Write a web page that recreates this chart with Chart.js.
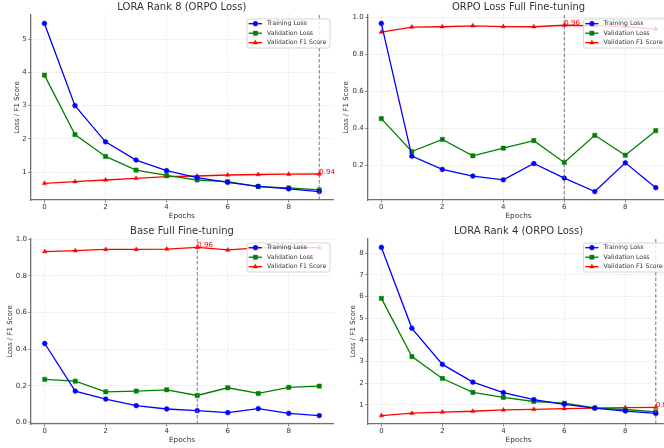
<!DOCTYPE html>
<html>
<head>
<meta charset="utf-8">
<script src="https://cdn.jsdelivr.net/npm/chart.js@4.4.1/dist/chart.umd.min.js"></script>
<style>
  html, body { margin: 0; padding: 0; background: #fff; overflow: hidden; width: 664px; height: 448px; }
  canvas { position: absolute; }
</style>
</head>
<body>
<script>
const epochs = [0, 1, 2, 3, 4, 5, 6, 7, 8, 9];
const xTicks = [0, 2, 4, 6, 8];

// LORA Rank 8 (ORPO Loss)
const rank8Train = [5.48, 3.00, 1.91, 1.36, 1.04, 0.83, 0.69, 0.57, 0.49, 0.41];
const rank8Val = [3.92, 2.13, 1.47, 1.06, 0.90, 0.76, 0.71, 0.56, 0.52, 0.46];
const rank8F1 = [0.66, 0.71, 0.76, 0.81, 0.86, 0.88, 0.91, 0.925, 0.935, 0.94];
const rank8YTicks = [1, 2, 3, 4, 5];
const rank8Best = 9;

// ORPO Loss Full Fine-tuning
const orpoTrain = [0.968, 0.249, 0.177, 0.141, 0.121, 0.209, 0.130, 0.057, 0.213, 0.078];
const orpoVal = [0.452, 0.274, 0.340, 0.251, 0.292, 0.333, 0.215, 0.362, 0.254, 0.387];
const orpoF1 = [0.921, 0.948, 0.950, 0.955, 0.951, 0.950, 0.958, 0.955, 0.952, 0.937];
const orpoYTicks = [0.2, 0.4, 0.6, 0.8, 1.0];
const orpoBest = 6;

// Base Full Fine-tuning
const baseTrain = [0.431, 0.171, 0.127, 0.091, 0.073, 0.064, 0.053, 0.075, 0.049, 0.037];
const baseVal = [0.235, 0.225, 0.167, 0.171, 0.178, 0.147, 0.189, 0.158, 0.191, 0.198];
const baseF1 = [0.933, 0.938, 0.945, 0.945, 0.947, 0.956, 0.942, 0.953, 0.955, 0.955];
const baseYTicks = [0.0, 0.2, 0.4, 0.6, 0.8, 1.0];
const baseBest = 5;

// LORA Rank 4 (ORPO Loss)
const rank4Train = [8.26, 4.53, 2.87, 2.05, 1.57, 1.25, 1.03, 0.85, 0.72, 0.61];
const rank4Val = [5.91, 3.23, 2.22, 1.58, 1.35, 1.16, 1.08, 0.86, 0.79, 0.68];
const rank4F1 = [0.51, 0.62, 0.67, 0.71, 0.77, 0.80, 0.83, 0.85, 0.88, 0.89];
const rank4YTicks = [1, 2, 3, 4, 5, 6, 7, 8];
const rank4Best = 9;

Chart.defaults.font.family = 'DejaVu Sans';
Chart.defaults.color = '#333';

const panels = [
  { left: 0, top: 0, w: 338, title: 'LORA Rank 8 (ORPO Loss)', train: rank8Train, val: rank8Val, f1: rank8F1,
    yTicks: rank8YTicks, dec: 0, best: rank8Best, box: { left: 30.7, right: 333, top: 15, bottom: 200 }, yTitleX: 17.3 },
  { left: 332, top: 0, w: 342, title: 'ORPO Loss Full Fine-tuning', train: orpoTrain, val: orpoVal, f1: orpoF1,
    yTicks: orpoYTicks, dec: 1, best: orpoBest, box: { left: 35.6, right: 337.5, top: 15, bottom: 200 }, yTitleX: 14 },
  { left: 0, top: 224, w: 338, title: 'Base Full Fine-tuning', train: baseTrain, val: baseVal, f1: baseF1,
    yTicks: baseYTicks, dec: 1, best: baseBest, box: { left: 31, right: 333, top: 15, bottom: 200 }, yTitleX: 10 },
  { left: 332, top: 224, w: 342, title: 'LORA Rank 4 (ORPO Loss)', train: rank4Train, val: rank4Val, f1: rank4F1,
    yTicks: rank4YTicks, dec: 0, best: rank4Best, box: { left: 35.7, right: 337.5, top: 15, bottom: 200 }, yTitleX: 20.7 },
];

function drawLegend(ctx, area, series) {
  const w = 83, h = 29;
  const x0 = area.right - 3 - w, y0 = area.top + 4;
  ctx.save();
  ctx.fillStyle = 'rgba(255,255,255,0.8)';
  ctx.strokeStyle = '#cccccc';
  ctx.lineWidth = 0.8;
  ctx.beginPath();
  ctx.roundRect(x0, y0, w, h, 2);
  ctx.fill();
  ctx.stroke();
  ctx.font = '6.2px "DejaVu Sans"';
  ctx.textBaseline = 'middle';
  ctx.textAlign = 'left';
  series.forEach((s, i) => {
    const cy = y0 + 4.7 + i * 9.5;
    ctx.strokeStyle = s.color;
    ctx.fillStyle = s.color;
    ctx.lineWidth = 1.3;
    ctx.beginPath();
    ctx.moveTo(x0 + 1.7, cy);
    ctx.lineTo(x0 + 15, cy);
    ctx.stroke();
    ctx.lineWidth = 0.5;
    Chart.helpers.drawPoint(ctx, { pointStyle: s.style, radius: s.r, borderWidth: 0.5, rotation: 0 }, x0 + 8.4, cy);
    ctx.fillStyle = '#333';
    ctx.fillText(s.label, x0 + 20, cy);
  });
  ctx.restore();
}

function makeChart(p) {
  const canvas = document.createElement('canvas');
  canvas.width = p.w;
  canvas.height = 224;
  canvas.style.left = p.left + 'px';
  canvas.style.top = p.top + 'px';
  document.body.appendChild(canvas);

  const series = [
    { label: 'Training Loss', data: p.train, color: '#0000ff', style: 'circle', r: 2.4 },
    { label: 'Validation Loss', data: p.val, color: '#008000', style: 'rect', r: 3.0 },
    { label: 'Validation F1 Score', data: p.f1, color: '#ff0000', style: 'triangle', r: 2.5 },
  ];
  const ys = [...p.train, ...p.val, ...p.f1];
  const yLo = Math.min(...ys), yHi = Math.max(...ys), yPad = (yHi - yLo) * 0.05;
  const xPad = (epochs[epochs.length - 1] - epochs[0]) * 0.05;

  const extras = {
    id: 'extras',
    afterDatasetsDraw(chart) {
      const { ctx, chartArea: a, scales: { x, y } } = chart;
      ctx.save();
      // title
      ctx.fillStyle = '#333';
      ctx.font = '10px "DejaVu Sans"';
      ctx.textAlign = 'center';
      ctx.textBaseline = 'middle';
      ctx.fillText(p.title, (a.left + a.right) / 2, 7.5);
      // best epoch marker
      const bx = x.getPixelForValue(epochs[p.best]);
      ctx.strokeStyle = '#666';
      ctx.lineWidth = 0.9;
      ctx.setLineDash([3.5, 2]);
      ctx.beginPath();
      ctx.moveTo(bx, a.top);
      ctx.lineTo(bx, a.bottom);
      ctx.stroke();
      ctx.setLineDash([]);
      ctx.fillStyle = '#ff0000';
      ctx.font = '7px "DejaVu Sans"';
      ctx.textAlign = 'left';
      ctx.textBaseline = 'alphabetic';
      ctx.fillText(p.f1[p.best].toFixed(2), bx, y.getPixelForValue(p.f1[p.best]) - 0.5);
      ctx.restore();
      drawLegend(ctx, a, series);
    }
  };

  const gridCommon = { color: '#d9d9d9', lineWidth: 0.8, tickLength: 2.5, tickColor: '#666', tickWidth: 0.8 };
  const borderCommon = { display: true, color: '#707070', width: 1.3, dash: [1, 1.5] };

  new Chart(canvas, {
    type: 'line',
    data: {
      datasets: series.map(s => ({
        label: s.label,
        data: epochs.map((e, i) => ({ x: e, y: s.data[i] })),
        borderColor: s.color,
        backgroundColor: s.color,
        borderWidth: 1.3,
        pointStyle: s.style,
        pointRadius: s.r,
        pointBorderWidth: 0.5,
        pointBackgroundColor: s.color,
        pointBorderColor: s.color,
        tension: 0,
      }))
    },
    options: {
      responsive: false,
      animation: false,
      events: [],
      layout: { padding: { left: 0, top: p.box.top, right: p.w - p.box.right, bottom: 0 } },
      plugins: { legend: { display: false }, tooltip: { enabled: false }, title: { display: false } },
      scales: {
        x: {
          type: 'linear',
          min: epochs[0] - xPad,
          max: epochs[epochs.length - 1] + xPad,
          afterBuildTicks: s => { s.ticks = xTicks.map(v => ({ value: v })); },
          afterFit: s => { s.height = 224 - p.box.bottom; s.paddingLeft = 0; s.paddingRight = 0; },
          grid: gridCommon,
          border: borderCommon,
          ticks: { font: { size: 7 }, color: '#333', padding: 0.5, maxRotation: 0, callback: v => String(v) },
          title: { display: true, text: 'Epochs', font: { size: 7.3 }, color: '#333', padding: { top: 0, bottom: 3.1 } },
        },
        y: {
          type: 'linear',
          min: yLo - yPad,
          max: yHi + yPad,
          afterBuildTicks: s => { s.ticks = p.yTicks.map(v => ({ value: v })); },
          afterFit: s => { s.width = p.box.left; },
          grid: gridCommon,
          border: borderCommon,
          ticks: { font: { size: 7 }, color: '#333', padding: 1.5, callback: v => Number(v).toFixed(p.dec) },
          title: { display: true, text: 'Loss / F1 Score', font: { size: 7 }, color: '#333', padding: { top: p.yTitleX - 4.2, bottom: 0 } },
        }
      }
    },
    plugins: [extras]
  });
}

panels.forEach(makeChart);
</script>
</body>
</html>
